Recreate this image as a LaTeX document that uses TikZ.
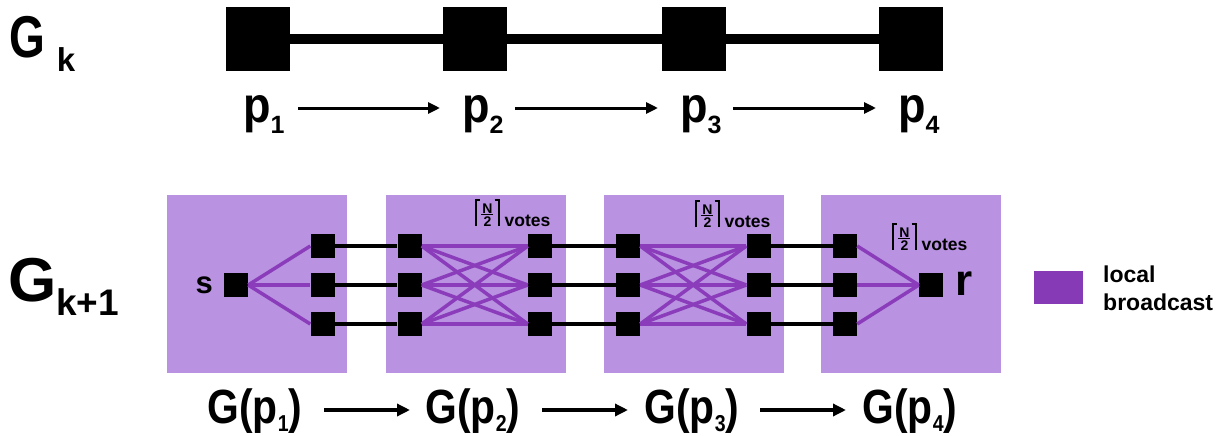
\documentclass[tikz,border=0pt]{standalone}
\usepackage{fontspec}
\usepackage{graphicx}
\setmainfont{Liberation Sans}
\usetikzlibrary{arrows.meta}
\definecolor{boxpurple}{RGB}{185,146,225}
\definecolor{linepurple}{RGB}{138,60,186}
\definecolor{legpurple}{RGB}{134,58,182}
\newcommand{\fs}[1]{\fontsize{#1}{#1}\selectfont}
\newcommand{\lowsub}[3]{\raisebox{-#2pt}{\fs{#1}#3}}
\newcommand{\narrow}[2]{\scalebox{#1}[1]{#2}}
\newcommand{\lceilbar}{\vrule width 1.7pt height 27pt depth 0pt\kern-1.7pt\vrule width 5pt height 27pt depth -25.3pt}
\newcommand{\rceilbar}{\vrule width 5pt height 27pt depth -25.3pt\kern-1.7pt\vrule width 1.7pt height 27pt depth 0pt}
\newcommand{\halfN}{\vbox{\hbox to 12pt{\hfil\fs{14}\bfseries N\hfil}\kern1pt\hrule height 0.9pt\kern1.2pt\hbox to 12pt{\hfil\fs{14}\bfseries 2\hfil}}}
\newcommand{\votes}{\fs{17.5}\bfseries\lceilbar\kern1.2pt\halfN\kern1.2pt\rceilbar\kern5pt votes}
\begin{document}
\begin{tikzpicture}[x=1pt,y=-1pt,
  bigsq/.style={fill=black,inner sep=0,minimum size=64pt},
  smsq/.style={fill=black,inner sep=0,minimum size=24pt},
  bbox/.style={fill=boxpurple,inner sep=0,minimum width=180pt,minimum height=178pt},
  topline/.style={line width=10pt,black},
  bline/.style={line width=4.5pt,black},
  pline/.style={line width=3.5pt,linepurple},
  parrow/.style={line width=3pt,-{Triangle[length=12pt,width=11pt]}},
  garrow/.style={line width=4pt,-{Triangle[length=13pt,width=12pt]}},
  lbl/.style={inner sep=0,font=\bfseries},
]
\useasboundingbox (0,0) rectangle (1228,436);

% ---------- G_k ----------
\node[lbl,anchor=base west] (gk) at (9,57) {\fs{59}\narrow{0.78}{G}\hspace{12pt}\lowsub{33}{14}{k}};
\node[bigsq] (t1) at (258,39) {};
\node[bigsq] (t2) at (475,39) {};
\node[bigsq] (t3) at (694,39) {};
\node[bigsq] (t4) at (911,39) {};
\draw[topline] (t1) -- (t2);
\draw[topline] (t2) -- (t3);
\draw[topline] (t3) -- (t4);

\node[lbl,anchor=base west] (p1) at (243,122) {\fs{50}\narrow{0.9}{p}\lowsub{25}{11}{1}};
\node[lbl,anchor=base west] (p2) at (462,122) {\fs{50}\narrow{0.9}{p}\lowsub{25}{11}{2}};
\node[lbl,anchor=base west] (p3) at (680,122) {\fs{50}\narrow{0.9}{p}\lowsub{25}{11}{3}};
\node[lbl,anchor=base west] (p4) at (898,122) {\fs{50}\narrow{0.9}{p}\lowsub{25}{11}{4}};
\coordinate (a1s) at (298,108); \coordinate (a1e) at (440,108);
\coordinate (a2s) at (515,108); \coordinate (a2e) at (658,108);
\coordinate (a3s) at (733,108); \coordinate (a3e) at (876,108);
\draw[parrow] (a1s) -- (a1e);
\draw[parrow] (a2s) -- (a2e);
\draw[parrow] (a3s) -- (a3e);

% ---------- G_{k+1} ----------
\node[lbl,anchor=base west] (gk1) at (8,301) {\fs{62}G\lowsub{37}{14}{k+1}};

\node[bbox] (B1) at (257,284) {};
\node[bbox] (B2) at (476,284) {};
\node[bbox] (B3) at (694,284) {};
\node[bbox] (B4) at (911,284) {};

% squares
\foreach \c/\x in {1/322.5,2/409.5,3/540,4/628,5/758.5,6/845}{
  \foreach \r/\y in {1/246,2/285,3/324}{
    \node[smsq] (c\c r\r) at (\x,\y) {};
  }
}
\node[smsq] (s) at (236,285) {};
\node[smsq] (r) at (931,285) {};

% purple local broadcast lines
\foreach \r in {1,2,3}{
  \draw[pline] (s.east) -- (c1r\r.west);
  \draw[pline] (c6r\r.east) -- (r.west);
  \foreach \q in {1,2,3}{
    \draw[pline] (c2r\r.east) -- (c3r\q.west);
    \draw[pline] (c4r\r.east) -- (c5r\q.west);
  }
}
% black links
\foreach \r in {1,2,3}{
  \draw[bline] (c1r\r) -- (c2r\r);
  \draw[bline] (c3r\r) -- (c4r\r);
  \draw[bline] (c5r\r) -- (c6r\r);
}

\node[lbl,anchor=base east] (slab) at (213,293) {\fs{31}s};
\node[lbl,anchor=base west] (rlab) at (955,295) {\fs{44}r};

\node[lbl,anchor=base west] (v1) at (475,226) {\votes};
\node[lbl,anchor=base west] (v2) at (695,227) {\votes};
\node[lbl,anchor=base west] (v3) at (892,250) {\votes};

% legend
\node[fill=legpurple,inner sep=0,minimum width=49pt,minimum height=33pt] (leg) at (1058.5,287.5) {};
\node[lbl,anchor=base west] (leg1) at (1103,282) {\fs{23}local};
\node[lbl,anchor=base west] (leg2) at (1103,310) {\fs{23}broadcast};

% bottom labels
\node[lbl,anchor=base] (g1) at (255,423) {\fs{48}\narrow{0.85}{G(p\lowsub{23}{8}{1})}};
\node[lbl,anchor=base] (g2) at (473,423) {\fs{48}\narrow{0.85}{G(p\lowsub{23}{8}{2})}};
\node[lbl,anchor=base] (g3) at (692,423) {\fs{48}\narrow{0.85}{G(p\lowsub{23}{8}{3})}};
\node[lbl,anchor=base] (g4) at (910,423) {\fs{48}\narrow{0.85}{G(p\lowsub{23}{8}{4})}};
\coordinate (b1s) at (324,410); \coordinate (b1e) at (410,410);
\coordinate (b2s) at (542,410); \coordinate (b2e) at (628,410);
\coordinate (b3s) at (760,410); \coordinate (b3e) at (846,410);
\draw[garrow] (b1s) -- (b1e);
\draw[garrow] (b2s) -- (b2e);
\draw[garrow] (b3s) -- (b3e);
\end{tikzpicture}
\end{document}
